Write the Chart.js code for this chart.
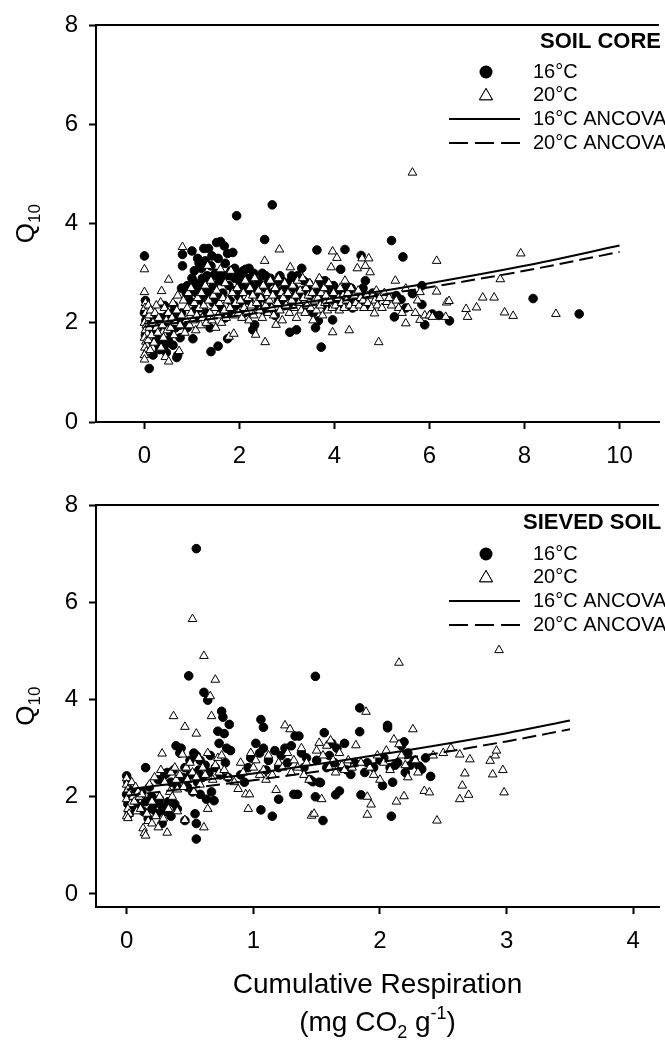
<!DOCTYPE html>
<html><head><meta charset="utf-8">
<script src="https://cdn.jsdelivr.net/npm/chart.js@4.4.0/dist/chart.umd.min.js"></script>
<style>
html,body{margin:0;padding:0;background:#fff;width:665px;height:1041px;overflow:hidden}
#c1{position:absolute;left:0;top:0}
#c2{position:absolute;left:0;top:480px}
</style></head><body>
<canvas id="c1" width="665" height="480"></canvas>
<canvas id="c2" width="665" height="561"></canvas>
<script>
// ---------- DATA ----------
const coreXTicks = [0, 2, 4, 6, 8, 10];
const coreYTicks = [0, 2, 4, 6, 8];
const sievedXTicks = [0, 1, 2, 3, 4];
const sievedYTicks = [0, 2, 4, 6, 8];

const legendLabels = ['16°C', '20°C', '16°C ANCOVA', '20°C ANCOVA'];
const panelTitles = ['SOIL CORE', 'SIEVED SOIL'];
const yTitleMain = 'Q';
const yTitleSub = '10';
const xTitleLine1 = 'Cumulative Respiration';

// SOIL CORE, 16°C
const core16 = [
[0,3.35],[0.02,2.45],[0.05,2.3],[0,2.2],[0.03,2.05],[0.06,1.9],[0.02,1.75],[0.08,1.6],[0.1,1.08],
[0.12,2.0],[0.15,1.95],[0.18,1.35],[0.2,1.85],[0.22,2.05],[0.25,1.7],[0.28,1.9],[0.3,1.55],[0.32,1.46],[0.35,2.1],[0.38,1.6],[0.4,1.5],[0.42,1.55],[0.45,1.95],[0.48,2.15],[0.5,1.65],[0.42,2.35],[0.46,1.4],
[0.52,2.0],[0.55,1.8],[0.58,2.2],[0.6,1.55],[0.62,2.35],[0.65,1.9],[0.68,1.3],[0.7,1.35],[0.72,2.1],[0.75,1.7],[0.78,2.7],[0.8,3.38],[0.8,3.15],[0.78,2.2],[0.74,1.95],[0.85,2.0],[0.88,2.6],[0.9,1.9],
[0.95,2.45],[1.0,3.45],[1.02,1.68],[1.05,2.25],[1.08,2.8],[1.1,2.6],[1.12,2.1],[1.15,3.2],[1.18,2.7],[1.2,2.4],[1.22,2.9],[1.25,3.5],[1.26,2.55],[1.3,2.2],[1.32,2.95],[1.35,2.65],[1.38,1.9],[1.4,1.42],[1.42,3.35],[1.45,2.75],[1.48,2.5],[1.5,3.0],[1.35,3.5],[1.1,2.75],[1.25,2.85],[1.15,2.3],
[1.0,2.9],[1.05,3.05],[1.12,3.3],[1.2,3.1],[1.28,3.25],[1.4,3.15],[1.45,2.95],[0.95,2.6],[0.9,2.75],[1.3,2.6],[1.45,2.4],
[1.52,3.62],[1.55,1.53],[1.58,2.85],[1.6,3.64],[1.62,2.3],[1.65,2.6],[1.68,3.55],[1.7,2.1],[1.72,2.95],[1.75,1.68],[1.75,3.4],[1.78,2.75],[1.8,2.45],[1.82,3.05],[1.85,2.2],[1.86,3.42],[1.88,2.65],[1.9,2.9],[1.92,2.35],[1.94,4.16],[1.95,3.0],[1.98,2.55],
[1.55,3.3],[1.6,2.95],[1.7,3.2],[1.8,2.95],[1.9,3.1],[1.6,2.55],
[2.02,2.8],[2.05,2.4],[2.08,3.05],[2.1,2.2],[2.13,3.08],[2.15,2.65],[2.18,2.9],[2.2,2.45],[2.25,2.75],[2.28,1.86],[2.3,3.0],[2.32,1.96],[2.35,2.6],[2.38,2.35],[2.4,2.85],[2.45,2.5],[2.48,3.0],[2.5,2.25],[2.53,3.68],[2.55,2.7],[2.6,2.4],[2.65,2.9],[2.69,4.38],[2.7,2.6],[2.75,2.15],[2.78,2.8],[2.82,2.45],[2.85,2.95],[2.9,2.65],[2.95,2.35],[2.98,2.75],
[2.0,2.95],[2.1,2.7],[2.2,3.1],[2.28,2.6],[2.4,2.7],[2.55,2.95],[2.6,2.8],[2.75,2.65],[2.9,2.85],
[3.02,2.55],[3.06,1.81],[3.08,2.85],[3.12,2.4],[3.15,2.7],[3.2,1.86],[3.22,2.95],[3.25,2.5],[3.31,3.1],[3.35,2.65],[3.4,2.3],[3.45,2.8],[3.5,2.55],[3.55,2.2],[3.6,1.9],[3.63,3.47],[3.66,2.04],[3.68,2.7],[3.72,1.51],[3.75,2.45],[3.8,2.85],[3.85,2.3],[3.9,2.6],[3.96,2.06],[3.98,2.75],
[3.0,2.7],[3.1,2.95],[3.2,2.6],[3.35,2.85],[3.45,2.65],[3.6,2.6],[3.7,2.85],[3.85,2.7],
[4.05,2.5],[4.1,2.35],[4.13,3.08],[4.18,2.6],[4.22,3.48],[4.25,2.75],[4.3,2.45],[4.38,2.3],[4.45,2.6],[4.5,2.4],[4.56,3.36],[4.6,2.55],[4.65,2.85],[4.7,2.35],[4.8,2.6],[4.9,2.5],
[4.0,2.65],[4.15,2.45],[4.35,2.7],[4.6,2.7],
[5.2,3.66],[5.26,2.12],[5.3,2.55],[5.4,2.47],[5.44,3.33],[5.5,2.3],[5.64,2.59],[5.84,2.75],[5.84,2.37],[5.9,1.96],[6.06,2.18],[6.2,2.15],[6.42,2.04],[8.18,2.49],[9.15,2.18]
];

// SOIL CORE, 20°C
const core20 = [
[0,3.08],[0,2.62],[0.02,2.4],[0.01,2.3],[0.03,2.2],[0.05,2.1],[0,2.0],[0.04,1.95],[0.02,1.85],[0.06,1.78],[0,1.7],[0.03,1.62],[0.05,1.55],[0.01,1.5],[0.04,1.42],[0,1.35],[0,1.26],[0.08,2.35],[0.1,2.15],[0.1,1.9],[0.08,1.65],[0.12,1.45],[0.13,2.25],
[0.15,1.75],[0.18,2.0],[0.2,1.6],[0.22,2.2],[0.25,1.9],[0.28,1.8],[0.3,2.1],[0.34,2.41],[0.36,2.64],[0.38,1.95],[0.4,1.7],[0.42,2.3],[0.44,1.31],[0.46,2.05],[0.48,1.85],[0.5,2.2],[0.51,2.87],[0.51,1.22],[0.35,1.5],[0.25,2.35],
[0.55,1.9],[0.58,2.1],[0.6,2.4],[0.62,1.75],[0.65,2.0],[0.68,2.25],[0.7,2.55],[0.73,1.43],[0.75,1.95],[0.78,2.15],[0.8,3.53],[0.82,2.45],[0.85,1.8],[0.88,2.05],[0.9,2.3],[0.92,2.6],[0.95,1.95],[0.98,2.2],[0.98,2.7],
[1.02,2.05],[1.05,2.4],[1.08,1.85],[1.1,2.15],[1.12,2.5],[1.15,2.3],[1.18,1.95],[1.2,2.6],[1.22,2.1],[1.25,2.35],[1.28,2.75],[1.3,2.0],[1.33,3.15],[1.35,2.45],[1.38,2.2],[1.4,2.85],[1.42,2.05],[1.45,2.55],[1.48,2.3],[1.5,1.9],[1.52,2.65],[1.55,2.15],[1.58,2.4],[1.6,3.08],[1.62,2.0],[1.65,2.5],[1.68,2.25],[1.7,2.8],[1.72,2.1],[1.75,2.45],[1.78,1.72],[1.8,2.3],[1.82,3.05],[1.85,2.6],[1.88,1.78],[1.9,2.15],[1.92,2.4],[1.95,2.7],[1.98,2.2],
[2.02,2.45],[2.05,2.1],[2.08,2.6],[2.1,2.3],[2.12,2.85],[2.15,2.2],[2.18,2.5],[2.2,2.05],[2.22,2.7],[2.25,2.35],[2.28,2.55],[2.3,2.15],[2.32,2.9],[2.34,1.76],[2.36,2.4],[2.4,2.65],[2.42,2.25],[2.45,2.5],[2.48,2.1],[2.5,2.75],[2.53,3.25],[2.54,1.61],[2.55,2.35],[2.58,2.6],[2.6,2.2],[2.63,2.45],[2.65,2.85],[2.68,2.3],[2.7,2.55],[2.72,2.15],[2.75,2.7],[2.77,1.96],[2.8,2.4],[2.82,2.9],[2.84,3.48],[2.85,2.25],[2.88,2.6],[2.9,2.05],[2.92,2.5],[2.95,2.8],[2.98,2.35],
[3.02,2.6],[3.05,2.2],[3.07,3.12],[3.1,2.45],[3.12,2.75],[3.15,2.3],[3.18,2.55],[3.2,2.1],[3.22,2.85],[3.25,2.4],[3.28,2.65],[3.3,2.25],[3.33,2.9],[3.35,2.5],[3.38,2.2],[3.4,2.7],[3.42,2.35],[3.45,2.55],[3.48,2.8],[3.5,2.3],[3.53,2.6],[3.55,2.05],[3.58,2.45],[3.6,2.75],[3.62,2.25],[3.65,2.5],[3.68,2.9],[3.7,2.35],[3.72,2.6],[3.75,2.15],[3.78,2.7],[3.8,2.4],[3.82,2.55],[3.85,2.25],[3.88,2.8],[3.9,2.45],[3.93,3.12],[3.95,2.3],[3.96,3.44],[3.96,1.81],[3.98,2.6],
[4.02,2.35],[4.05,3.31],[4.08,2.5],[4.1,2.25],[4.12,2.7],[4.15,2.4],[4.18,2.55],[4.2,2.3],[4.22,2.85],[4.25,2.45],[4.28,2.6],[4.31,1.85],[4.32,2.35],[4.35,2.7],[4.38,2.5],[4.4,2.3],[4.42,2.55],[4.45,2.4],[4.48,3.1],[4.5,2.65],[4.52,2.35],[4.55,2.5],[4.58,3.3],[4.6,2.45],[4.62,2.3],[4.65,3.15],[4.68,2.55],[4.7,2.4],[4.72,3.3],[4.75,3.02],[4.78,2.3],[4.8,2.55],[4.84,2.19],[4.85,2.45],[4.88,2.65],[4.9,2.35],[4.93,1.61],[4.95,2.5],
[5.0,2.3],[5.05,2.6],[5.1,2.42],[5.15,2.5],[5.2,2.35],[5.28,2.85],[5.3,2.45],[5.35,2.3],[5.42,2.2],[5.5,2.69],[5.5,1.99],[5.55,2.3],[5.64,5.03],[5.7,2.2],[5.75,2.45],[5.8,2.62],[5.8,2.06],[5.9,2.15],[6.0,2.15],[6.06,2.12],[6.15,3.25],[6.15,2.63],[6.34,2.12],[6.36,2.41],[6.41,2.44],[6.77,2.28],[6.8,2.12],[6.99,2.31],[7.12,2.51],[7.36,2.51],[7.49,2.88],[7.58,2.21],[7.76,2.14],[7.92,3.4],[8.66,2.18]
];

// SOIL CORE ANCOVA lines (read at x = 0,2,...,10)
const coreFitX = [0, 2, 4, 6, 8, 10];
const coreFit16 = [1.98, 2.22, 2.5, 2.8, 3.15, 3.56];
const coreFit20 = [1.92, 2.15, 2.42, 2.72, 3.05, 3.43];

// SIEVED SOIL, 16°C
const sieved16 = [
[0,2.43],[0.01,2.3],[0.02,2.15],[0,2.05],[0.03,1.95],[0.01,1.85],[0.04,1.75],[0.02,1.65],[0.05,2.1],[0.06,1.9],[0.08,2.0],[0.1,1.8],
[0.12,2.1],[0.13,1.7],[0.15,2.6],[0.15,1.9],[0.17,1.55],[0.18,2.2],[0.2,1.75],[0.2,2.0],[0.22,1.85],[0.24,1.65],[0.25,2.35],[0.26,1.95],[0.28,1.8],[0.28,1.45],[0.3,2.45],[0.3,1.7],[0.32,2.5],[0.33,1.9],[0.35,2.3],[0.35,1.6],[0.37,2.55],[0.38,1.85],[0.39,3.05],[0.4,2.2],[0.4,1.75],
[0.42,2.9],[0.43,3.0],[0.44,2.4],[0.46,1.51],[0.46,2.6],[0.48,2.2],[0.49,4.49],[0.5,2.75],[0.5,2.45],[0.52,2.1],[0.53,2.9],[0.54,1.65],[0.55,7.11],[0.55,1.13],[0.55,1.45],[0.55,2.85],[0.56,2.3],[0.57,2.55],[0.58,2.05],[0.58,2.75],[0.6,2.4],[0.61,4.15],[0.62,2.65],[0.63,1.95],[0.64,3.99],[0.65,2.5],[0.66,2.85],[0.67,2.1],[0.69,1.92],[0.7,2.6],[0.72,3.35],[0.73,3.1],[0.74,2.45],[0.75,3.76],[0.76,3.64],[0.77,3.3],[0.78,2.7],[0.79,3.0],[0.81,3.49],[0.82,2.95],[0.8,2.4],
[0.9,2.45],[0.93,2.3],[0.96,2.6],[0.98,2.8],[1.02,3.1],[1.05,2.9],[1.06,3.59],[1.06,1.73],[1.08,3.43],[1.08,3.0],[1.1,2.55],[1.12,2.75],[1.15,1.6],[1.17,2.95],[1.2,1.95],[1.2,2.6],[1.22,2.85],[1.25,3.0],[1.27,2.7],[1.3,3.05],[1.32,2.05],[1.35,2.05],[1.33,3.25],[1.36,3.25],[1.38,2.9],[1.4,2.6],
[1.42,2.8],[1.45,2.35],[1.47,2.31],[1.49,4.48],[1.49,2.0],[1.5,2.75],[1.52,2.3],[1.53,2.29],[1.55,1.51],[1.56,3.32],[1.58,2.6],[1.6,2.85],[1.62,3.1],[1.64,2.7],[1.65,2.04],[1.66,3.0],[1.68,2.12],[1.7,2.6],[1.72,3.1],[1.74,2.55],[1.77,2.46],[1.8,2.7],
[1.84,3.83],[1.84,3.34],[1.85,2.04],[1.88,2.5],[1.9,2.7],[1.95,2.6],[2.0,2.75],[2.02,2.23],[2.03,2.8],[2.06,3.47],[2.06,3.42],[2.08,2.6],[2.09,1.6],[2.1,2.3],[2.12,2.65],[2.14,2.7],[2.17,3.05],[2.19,3.13],[2.2,2.5],[2.22,2.9],[2.24,2.65],[2.27,2.75],[2.31,2.63],[2.33,2.57],[2.36,2.8],[2.4,2.42]
];

// SIEVED SOIL, 20°C
const sieved20 = [
[0,2.38],[0,2.25],[0.01,2.15],[0.02,2.05],[0,1.95],[0.03,1.85],[0.01,1.75],[0.02,1.65],[0,1.6],[0.01,1.56],[0.04,2.3],[0.05,2.0],[0.06,1.9],[0.07,2.2],[0.08,1.7],[0.09,2.1],[0.1,2.0],
[0.11,1.75],[0.12,2.05],[0.13,1.35],[0.14,1.25],[0.15,1.2],[0.16,1.65],[0.17,1.5],[0.18,2.25],[0.2,1.45],[0.2,1.9],[0.22,2.4],[0.23,1.6],[0.25,1.37],[0.26,2.0],[0.27,2.55],[0.28,2.89],[0.29,1.55],[0.3,2.3],[0.32,1.26],[0.33,1.75],[0.34,2.1],[0.35,2.5],[0.36,2.0],[0.37,3.66],[0.38,2.6],[0.39,2.35],[0.4,2.15],[0.4,1.7],
[0.42,2.45],[0.44,2.87],[0.45,2.2],[0.46,3.44],[0.46,1.52],[0.47,2.6],[0.48,2.35],[0.5,2.7],[0.52,5.66],[0.52,2.5],[0.53,2.1],[0.55,3.3],[0.55,2.4],[0.57,2.8],[0.58,2.25],[0.6,2.6],[0.61,4.9],[0.61,1.37],[0.62,2.45],[0.64,1.75],[0.64,2.9],[0.66,4.07],[0.67,3.66],[0.68,2.35],[0.7,4.41],[0.7,2.65],[0.72,2.8],[0.73,2.5],[0.75,2.85],[0.77,2.55],[0.8,2.4],[0.85,2.3],[0.88,2.16],[0.9,2.7],[0.92,2.5],[0.94,2.05],[0.96,1.75],[0.97,2.05],[0.98,2.9],[1.0,2.6],
[1.02,2.75],[1.05,2.45],[1.08,2.55],[1.1,2.35],[1.12,2.85],[1.15,2.45],[1.18,2.14],[1.2,2.7],[1.23,2.6],[1.25,3.47],[1.27,2.9],[1.29,3.39],[1.3,2.5],[1.32,2.75],[1.35,2.6],[1.38,3.0],[1.4,2.45],[1.42,2.7],[1.44,2.35],[1.46,1.61],[1.48,1.65],[1.5,2.95],[1.52,3.11],[1.54,1.95],[1.55,2.85],[1.58,3.05],[1.6,2.6],
[1.61,3.16],[1.63,2.75],[1.65,2.5],[1.68,2.9],[1.7,2.65],[1.72,2.55],[1.75,2.75],[1.78,2.6],[1.81,3.06],[1.85,2.7],[1.89,3.75],[1.9,2.0],[1.9,1.63],[1.92,2.6],[1.93,1.84],[1.95,2.45],[1.98,2.85],[2.0,2.35],[2.03,2.7],[2.05,2.95],[2.08,2.55],[2.11,3.18],[2.13,1.9],[2.15,3.08],[2.15,4.76],[2.17,2.85],[2.19,2.01],[2.2,2.65],[2.22,2.4],[2.26,3.39],[2.28,2.75],[2.3,2.5],
[2.35,2.12],[2.39,2.09],[2.42,2.85],[2.45,1.51],[2.5,2.9],[2.56,3.0],[2.63,2.87],[2.63,1.95],[2.65,2.23],[2.67,2.48],[2.7,2.04],[2.71,2.77],[2.87,2.74],[2.89,2.46],[2.91,2.85],[2.92,2.95],[2.94,5.02],[2.97,2.55],[2.98,2.09]
];

// SIEVED SOIL ANCOVA lines
const sievedFitX = [0, 1, 2, 3, 3.5];
const sievedFit16 = [2.15, 2.48, 2.87, 3.31, 3.57];
const sievedFit20 = [2.02, 2.34, 2.71, 3.14, 3.39];

// ---------- RENDERING ----------
const FONT = "'Liberation Sans', Arial, sans-serif";
const toXY = arr => arr.map(p => ({x: p[0], y: p[1]}));
const zipXY = (xs, ys) => xs.map((x, i) => ({x, y: ys[i]}));

const decor = {
  id: 'decor',
  afterDraw(chart, args, o) {
    const ctx = chart.ctx, a = chart.chartArea;
    ctx.save();
    ctx.strokeStyle = '#000'; ctx.fillStyle = '#000';
    // top frame line
    ctx.lineWidth = 2;
    const ty = Math.round(a.top);
    ctx.beginPath(); ctx.moveTo(a.left, ty); ctx.lineTo(a.right, ty); ctx.stroke();

    // panel title
    ctx.font = 'bold 22px ' + FONT;
    ctx.textAlign = 'left'; ctx.textBaseline = 'middle';
    ctx.fillText(o.title, o.titleX, o.titleY);

    // legend
    const rows = o.rows;
    ctx.font = '20px ' + FONT;
    legendLabels.forEach((t, i) => ctx.fillText(t, o.textX, rows[i]));
    // circle
    ctx.beginPath(); ctx.arc(o.markX, rows[0], 6.5, 0, Math.PI * 2); ctx.fill();
    // triangle
    ctx.fillStyle = '#fff'; ctx.lineWidth = 1;
    Chart.helpers.drawPoint(ctx, {pointStyle: 'triangle', radius: 7.5, rotation: 0, borderWidth: 1}, o.markX, rows[1] + 1);
    ctx.fill(); ctx.stroke();
    ctx.fillStyle = '#000';
    // lines
    ctx.lineWidth = 2;
    ctx.beginPath(); ctx.moveTo(o.lineX0, rows[2]); ctx.lineTo(o.lineX1, rows[2]); ctx.stroke();
    ctx.setLineDash([19, 7]);
    ctx.beginPath(); ctx.moveTo(o.lineX0, rows[3]); ctx.lineTo(o.lineX1, rows[3]); ctx.stroke();
    ctx.setLineDash([]);

    // y title Q10
    ctx.save();
    ctx.translate(o.yTitleX, (a.top + a.bottom) / 2);
    ctx.rotate(-Math.PI / 2);
    ctx.font = '26px ' + FONT;
    const wq = ctx.measureText(yTitleMain).width;
    ctx.font = '17px ' + FONT;
    const ws = ctx.measureText(yTitleSub).width;
    const x0 = -(wq + ws) / 2;
    ctx.textAlign = 'left'; ctx.textBaseline = 'alphabetic';
    ctx.font = '26px ' + FONT;
    ctx.fillText(yTitleMain, x0, 9);
    ctx.font = '17px ' + FONT;
    ctx.fillText(yTitleSub, x0 + wq, 15);
    ctx.restore();

    // x title
    if (o.xTitle) {
      ctx.textAlign = 'center'; ctx.textBaseline = 'middle';
      ctx.font = '28px ' + FONT;
      const cx = (a.left + a.right) / 2;
      ctx.fillText(xTitleLine1, cx, o.xTitleY1);
      // (mg CO2 g-1)
      const parts = [
        {t: '(mg CO', s: 28, dy: 0},
        {t: '2', s: 18, dy: 7},
        {t: ' g', s: 28, dy: 0},
        {t: '-1', s: 18, dy: -12},
        {t: ')', s: 28, dy: 0}
      ];
      let total = 0;
      parts.forEach(p => { ctx.font = p.s + 'px ' + FONT; p.w = ctx.measureText(p.t).width; total += p.w; });
      let x = cx - total / 2;
      ctx.textAlign = 'left'; ctx.textBaseline = 'alphabetic';
      const base = o.xTitleY2 + 10;
      parts.forEach(p => { ctx.font = p.s + 'px ' + FONT; ctx.fillText(p.t, x, base + p.dy); x += p.w; });
    }
    ctx.restore();
  }
};

function makePanel(id, cfg) {
  const axisCommon = {
    type: 'linear',
    grid: {display: true, drawOnChartArea: false, drawTicks: true, tickLength: 7, tickWidth: 2, tickColor: '#000', color: '#000'},
    border: {display: true, color: '#000', width: 2},
  };
  return new Chart(document.getElementById(id), {
    type: 'scatter',
    data: {
      datasets: [
        {label: legendLabels[2], data: zipXY(cfg.fitX, cfg.fit16), showLine: true, borderColor: '#000', borderWidth: 2, pointRadius: 0, cubicInterpolationMode: 'monotone', order: 0},
        {label: legendLabels[3], data: zipXY(cfg.fitX, cfg.fit20), showLine: true, borderColor: '#000', borderWidth: 2, borderDash: [14, 6], pointRadius: 0, cubicInterpolationMode: 'monotone', order: 0},
        {label: legendLabels[1], data: toXY(cfg.d20), pointStyle: 'triangle', pointRadius: 5, backgroundColor: '#fff', borderColor: '#000', borderWidth: 1, order: 1},
        {label: legendLabels[0], data: toXY(cfg.d16), pointStyle: 'circle', pointRadius: 4.3, backgroundColor: '#000', borderColor: '#000', borderWidth: 1, order: 2}
      ]
    },
    options: {
      responsive: false, animation: false, devicePixelRatio: 1,
      layout: {padding: {top: cfg.padTop, left: 0, right: 0, bottom: 0}},
      plugins: {legend: {display: false}, tooltip: {enabled: false}, decor: cfg.decor},
      scales: {
        x: Object.assign({}, axisCommon, {
          min: cfg.xMin, max: cfg.xMax,
          afterBuildTicks: s => { s.ticks = cfg.xTicks.map(v => ({value: v})); },
          afterFit: s => { s.height = cfg.xAxisH; },
          ticks: {color: '#000', font: {family: FONT, size: 24}, padding: 13, maxRotation: 0, autoSkip: false}
        }),
        y: Object.assign({}, axisCommon, {
          min: cfg.yMin, max: 8,
          afterBuildTicks: s => { s.ticks = cfg.yTicks.map(v => ({value: v})); },
          afterFit: s => { s.width = 96; },
          ticks: {color: '#000', font: {family: FONT, size: 24}, padding: 11}
        })
      }
    },
    plugins: [decor]
  });
}

makePanel('c1', {
  d16: core16, d20: core20, fitX: coreFitX, fit16: coreFit16, fit20: coreFit20,
  xMin: -1.02, xMax: 10.83, yMin: 0, xTicks: coreXTicks, yTicks: coreYTicks,
  padTop: 19, xAxisH: 58,
  decor: {title: panelTitles[0], titleX: 540, titleY: 42, rows: [72, 95, 119, 143], textX: 533, markX: 486, lineX0: 449, lineX1: 520, yTitleX: 25, xTitle: false}
});

makePanel('c2', {
  d16: sieved16, d20: sieved20, fitX: sievedFitX, fit16: sievedFit16, fit20: sievedFit20,
  xMin: -0.242, xMax: 4.203, yMin: -0.27, xTicks: sievedXTicks, yTicks: sievedYTicks,
  padTop: 23, xAxisH: 134,
  decor: {title: panelTitles[1], titleX: 523, titleY: 43, rows: [74, 97, 121, 145], textX: 533, markX: 486, lineX0: 449, lineX1: 520, yTitleX: 25, xTitle: true, xTitleY1: 505, xTitleY2: 541}
});
</script>
</body></html>
